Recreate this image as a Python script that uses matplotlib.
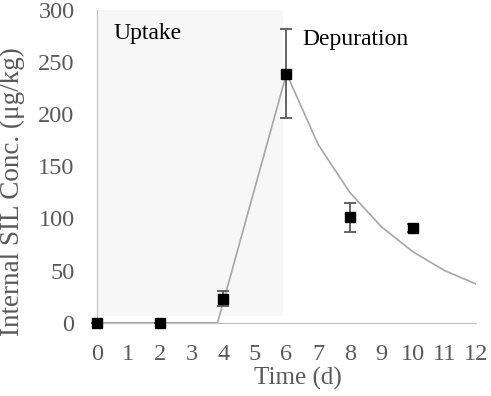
import numpy as np
import matplotlib
matplotlib.use("Agg")
import matplotlib.pyplot as plt

# measured data
t_obs = [0, 2, 4, 6, 8, 10]
c_obs = [0, 0, 23, 239, 101, 91]
c_err = [0, 0, 7, 43, 14, 4]

# model curve
t_mod = [0, 1, 2, 3, 3.82, 6, 7, 8, 9, 10, 11, 12]
c_mod = [0, 0, 0, 0, 0, 239, 171, 125, 92, 68, 50, 37]

uptake_end = 5.88

plt.rcParams['font.family'] = ['Liberation Serif', 'DejaVu Serif']

fig = plt.figure(figsize=(4.91, 3.96), dpi=100)
ax = fig.add_axes([0.197, 0.185, 0.773, 0.79])

ax.axvspan(0, uptake_end, ymin=0.02, ymax=1, color="#f7f7f7", zorder=0, lw=0)
ax.plot(t_mod, c_mod, color="#a6a6a6", lw=1.2, zorder=2)
ax.errorbar(t_obs, c_obs, yerr=c_err, fmt="s", color="black", ms=7.5,
            ecolor="#595959", elinewidth=1.3, capsize=4, capthick=1.3,
            zorder=3, clip_on=False)

ax.text(0.52, 277, "Uptake", fontsize=17, va="center", ha="left", color="black")
ax.text(6.49, 272, "Depuration", fontsize=17, va="center", ha="left", color="black")

ax.set_xlim(0, 12)
ax.set_ylim(0, 300)
ax.set_xticks(np.arange(0, 13, 1))
ax.set_yticks(np.arange(0, 301, 50))
ax.tick_params(length=0, labelsize=17.5, colors="#595959")
ax.tick_params(axis="x", pad=15)
ax.tick_params(axis="y", pad=16)
ax.set_xlabel("Time (d)", fontsize=18, color="#595959")
ax.set_ylabel("Internal SIL Conc. (μg/kg)", fontsize=19.5, color="#595959")
ax.xaxis.set_label_coords(0.53, -0.142)
ax.yaxis.set_label_coords(-0.19, 0.418)

for s in ["top", "right"]:
    ax.spines[s].set_visible(False)
for s in ["left", "bottom"]:
    ax.spines[s].set_color("#bfbfbf")
ax.set_facecolor("white")

fig.savefig("out.png", dpi=100)
